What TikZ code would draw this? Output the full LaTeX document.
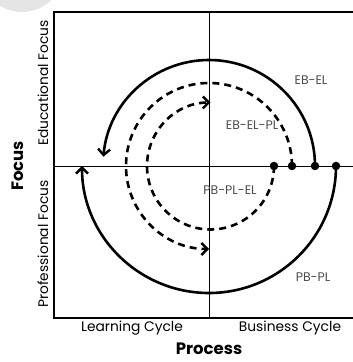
\documentclass[tikz,border=0pt]{standalone}
\usepackage{fontspec}
\setmainfont{Poppins}
\usetikzlibrary{arrows.meta}
\begin{document}
\begin{tikzpicture}[x=1pt,y=1pt,
  thickline/.style={line width=2.6pt},
  dashline/.style={line width=2.6pt, dash pattern=on 7pt off 5pt},
  tip/.style={-{Straight Barb[length=6pt,width=12pt,line width=2.4pt]}},
  dot/.style={circle, fill=black, inner sep=0pt, minimum size=8.5pt},
  lbl/.style={text=black!70, font=\fontsize{12.5}{14}\selectfont, inner sep=0pt},
  axlbl/.style={font=\fontsize{13.8}{16}\selectfont, inner sep=0pt},
  bigl/.style={font=\fontsize{16.5}{19}\selectfont\bfseries, inner sep=0pt}]
\useasboundingbox (0,0) rectangle (353,362);
% faint page decoration
\fill[black!10] (22,392) circle (42);
% frame and axes
\draw[line width=2.2pt] (54,44) rectangle (356,350);
\coordinate (C) at (209,196);
\coordinate (T) at (209,350);
\coordinate (B) at (209,44);
\coordinate (L) at (54,196);
\coordinate (R) at (356,196);
\draw[line width=0.9pt] (T) -- (B);
\draw[line width=0.9pt] (L) -- (R);
% arcs
\draw[thickline, tip] ([xshift=106pt]C) arc[start angle=0, end angle=175, radius=106];
\draw[thickline, tip] ([xshift=127pt]C) arc[start angle=0, end angle=-180, radius=127];
\draw[dashline, tip] ([xshift=83pt]C) arc[start angle=0, end angle=270, radius=83];
\draw[dashline, tip] ([xshift=65pt]C) arc[start angle=0, end angle=-270, radius=63.5];
% dots
\node[dot] (d1) at (274,196) {};
\node[dot] (d2) at (292,196) {};
\node[dot] (d3) at (315,196) {};
\node[dot] (d4) at (336,196) {};
% labels
\node[lbl] (l1) at (311,282) {EB-EL};
\node[lbl] (l2) at (252,237) {EB-EL-PL};
\node[lbl] (l3) at (230,172) {PB-PL-EL};
\node[lbl] (l4) at (313,85) {PB-PL};
\node[axlbl] (lc) at (132,34) {Learning Cycle};
\node[axlbl] (bc) at (290,34) {Business Cycle};
\node[bigl] (pr) at (209,13) {Process};
\node[axlbl, rotate=90] (ef) at (43,279) {Educational Focus};
\node[axlbl, rotate=90] (pf) at (43,118) {Professional Focus};
\node[bigl, rotate=90] (fo) at (18,196) {Focus};
\end{tikzpicture}
\end{document}
